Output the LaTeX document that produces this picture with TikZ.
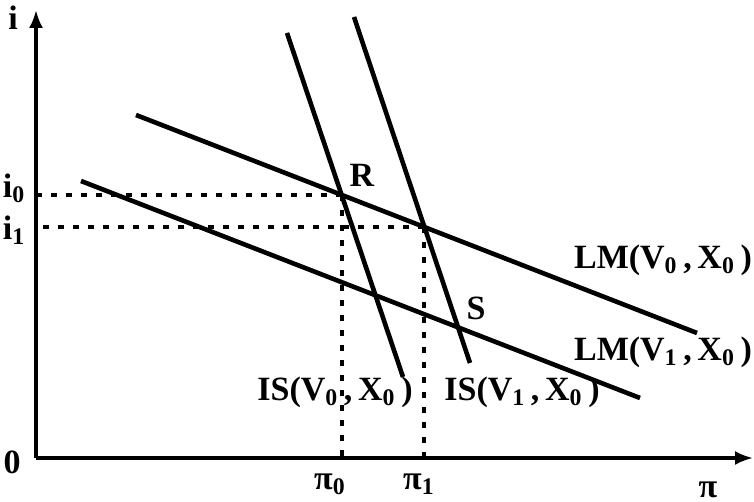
\documentclass[tikz,border=0pt]{standalone}
\usepackage{fontspec}
\setmainfont{Liberation Serif}
\usepackage{tikz}
\usetikzlibrary{
  arrows.meta,%
  intersections%
}
\tikzset{>={Latex[length=9pt,width=7pt]}}
\tikzset{font=\fontsize{17}{20}\selectfont\bfseries}
\tikzset{curve/.style={line width=2.3pt},
  guide/.style={line width=2pt, dash pattern=on 3pt off 4.5pt},
  axis/.style={line width=1.6pt, ->}}

\begin{document}
\begin{tikzpicture}[x=0.5pt, y=0.5pt]
  \useasboundingbox (-36,-44) rectangle (718,458); %
  \coordinate (o) at (0,0); %
  % axes
  \draw[axis] (o) -- (717,0) coordinate (xend); %
  \draw[axis] (o) -- (0,448) coordinate (yend); %
  \node (ilab) at (-23,440) {i}; %
  \node (pilab) at (672,-32) {π}; %
  \node (zero) at (-24,-4) {0}; %
  % LM and IS curves
  \draw[curve, name path=lm0] (100,343) -- (661,125); %
  \draw[curve, name path=lm1] (45,277) -- (604,60); %
  \draw[curve, name path=is0] (251,425) -- (367,81); %
  \draw[curve, name path=is1] (318,441) -- (434,95); %
  \path[name intersections={of=lm0 and is0, by=R}]; %
  \path[name intersections={of=lm0 and is1, by=Q}]; %
  % equilibrium guides
  \draw[guide] (R) -- (R -| o); %
  \draw[guide] (R) -- (R |- o); %
  \draw[guide] (Q) -- (Q -| o); %
  \draw[guide] (Q) -- (Q |- o); %
  \node (i0lab) at (-22,270) {i\textsubscript{0}}; %
  \node (i1lab) at (-22,228) {i\textsubscript{1}}; %
  \node (pi0lab) at (294,-26) {π\textsubscript{0}}; %
  \node (pi1lab) at (383,-26) {π\textsubscript{1}}; %
  \node (rlab) at (326,283) {R}; %
  \node (slab) at (440,150) {S}; %
  \node (is0lab) at (299,66) {IS(V\textsubscript{0}\,,\,X\textsubscript{0}\,)}; %
  \node (is1lab) at (486,66) {IS(V\textsubscript{1}\,,\,X\textsubscript{0}\,)}; %
  \node (lm0lab) at (627,198) {LM(V\textsubscript{0}\,,\,X\textsubscript{0}\,)}; %
  \node (lm1lab) at (627,106) {LM(V\textsubscript{1}\,,\,X\textsubscript{0}\,)}; %
\end{tikzpicture}
\end{document}
